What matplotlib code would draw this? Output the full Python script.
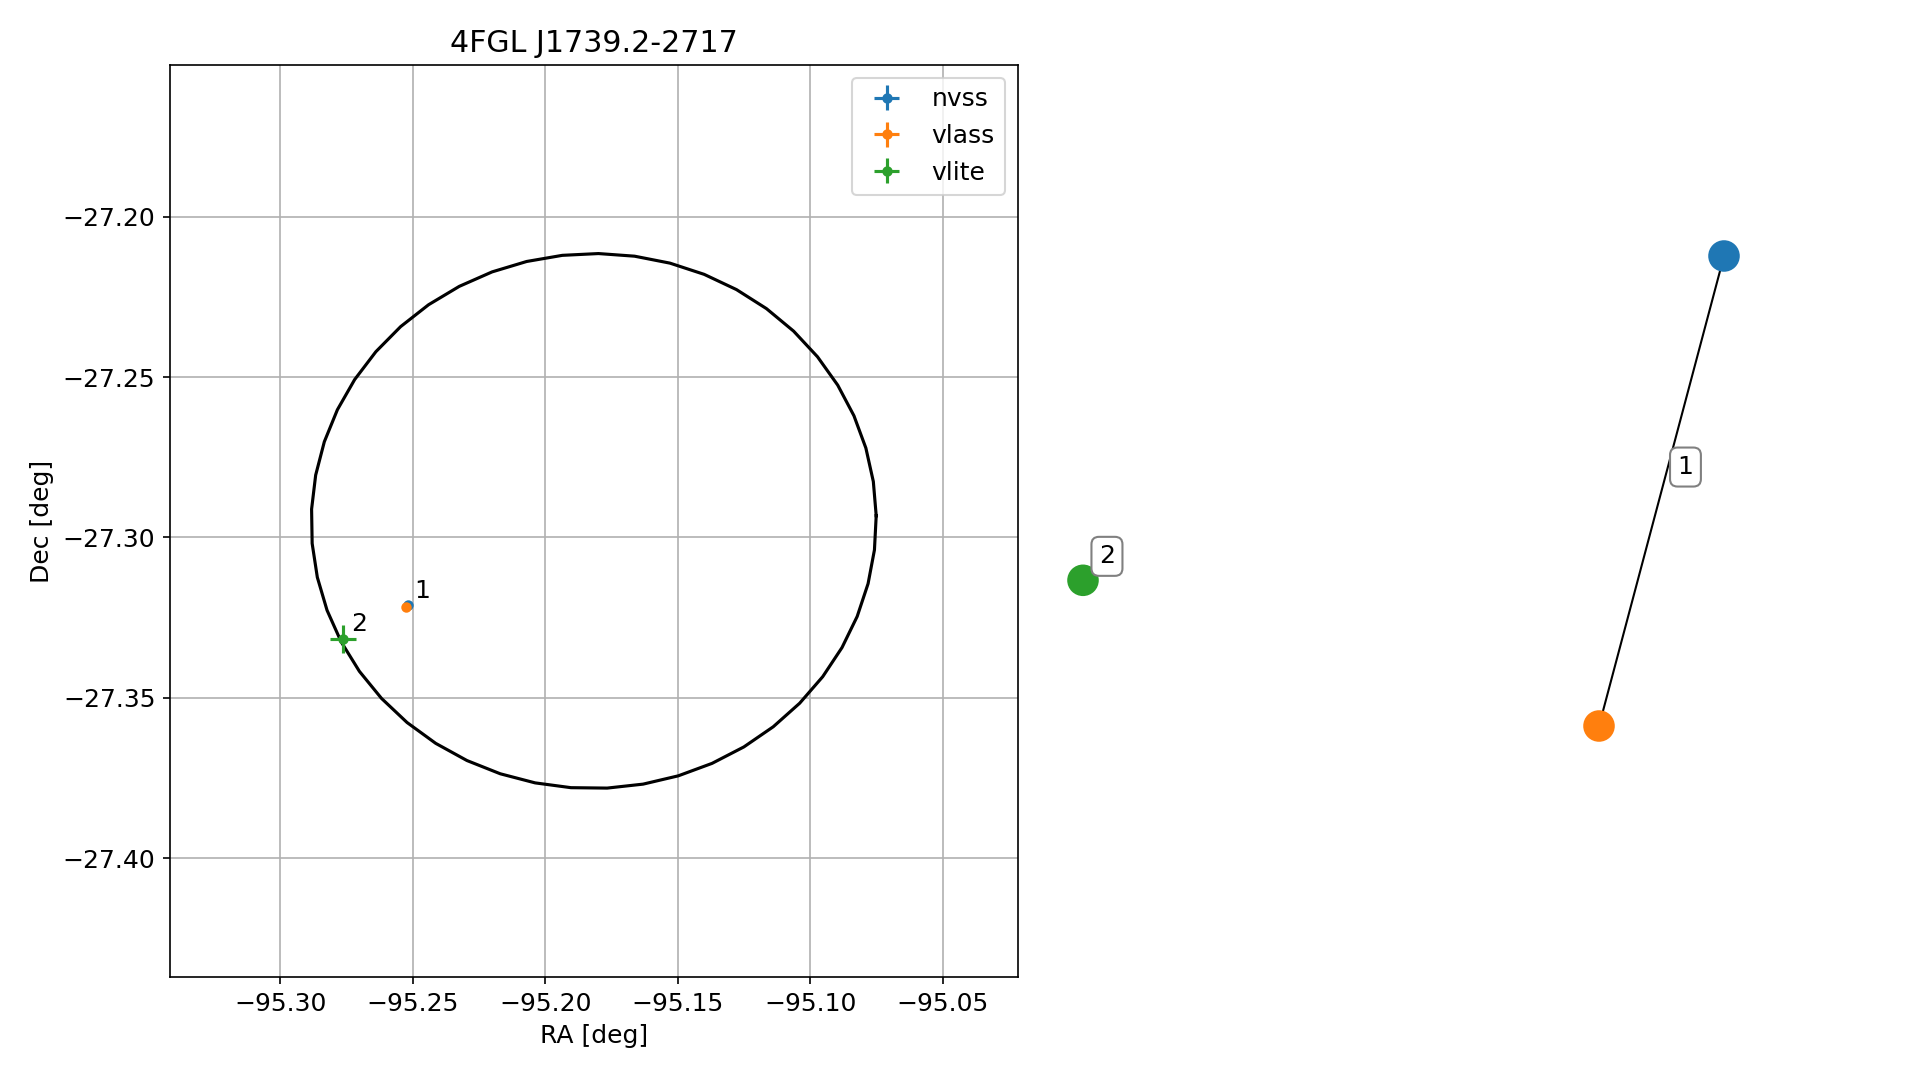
import matplotlib.pyplot as plt
import numpy as np

plt.rcParams['font.size'] = 12

# source name and Fermi ellipse
title = '4FGL J1739.2-2717'
ell_ra, ell_dec = -95.1817, -27.2949
ell_a, ell_b, ell_ang = 0.0948, 0.0834, 1.0  # deg, deg, deg

# radio counterparts
cats = ['nvss', 'vlass', 'vlite']
ra = [-95.2518, -95.2525, -95.2765]
dec = [-27.3212, -27.3216, -27.3317]
ra_err = [0.0004, 0.0004, 0.0049]
dec_err = [0.0004, 0.0004, 0.0044]
src_ids = ['', '1', '2']
colors = ['tab:blue', 'tab:orange', 'tab:green']

# match graph: node positions and edges
node_x = [1.0, 0.61, -1.0]
node_y = [1.0, -1.0, -0.38]
edges = [(0, 1, '1'), (2, 2, '2')]

fig = plt.figure(figsize=(1919 / 150, 1080 / 150), dpi=150)

# --- sky plot ---
ax = fig.add_axes([170 / 1919, 1 - 977 / 1080, 847.5 / 1919, 912 / 1080])
t = np.linspace(0, 2 * np.pi, 50)
th = np.radians(ell_ang)
cosd = np.cos(np.radians(ell_dec))
ex = ell_ra + (ell_a * np.cos(t) * np.cos(th) - ell_b * np.sin(t) * np.sin(th)) / cosd
ey = ell_dec + ell_a * np.cos(t) * np.sin(th) + ell_b * np.sin(t) * np.cos(th)
ax.plot(ex, ey, color='k', lw=1.5)

for i in range(len(cats)):
    ax.errorbar(ra[i], dec[i], xerr=ra_err[i], yerr=dec_err[i], fmt='o', ms=4,
                color=colors[i], label=cats[i])
    if src_ids[i]:
        ax.annotate(src_ids[i], (ra[i], dec[i]), xytext=(4, 4),
                    textcoords='offset points')

half = 1.5 * ell_a
ax.set_xlim(ell_ra - half / cosd, ell_ra + half / cosd)
ax.set_ylim(ell_dec - half, ell_dec + half)
ax.grid(True)
ax.set_xlabel('RA [deg]')
ax.set_ylabel('Dec [deg]')
ax.set_title(title)
ax.legend(loc='upper right')

# --- match graph ---
ax2 = fig.add_axes([0.55, 0.05, 0.44, 0.90])
sx, sy = 320.5, 235.0
x0, y0 = 1403.5, 491.0
ax2.set_xlim((0.55 * 1919 - x0) / sx, (0.99 * 1919 - x0) / sx)
ax2.set_ylim((y0 - 0.95 * 1080) / sy, (y0 - 0.05 * 1080) / sy)
ax2.axis('off')

for a, b, lab in edges:
    if a != b:
        ax2.plot([node_x[a], node_x[b]], [node_y[a], node_y[b]], color='k', lw=1, zorder=1)
    mx = (node_x[a] + node_x[b]) / 2
    my = (node_y[a] + node_y[b]) / 2
    ax2.annotate(lab, (mx, my), xytext=(11.5, 11.5), textcoords='offset points',
                 ha='center', va='center', fontsize=12, zorder=3,
                 bbox=dict(boxstyle='round', fc='white', ec='gray'))
ax2.scatter(node_x, node_y, s=200, c=colors, zorder=2)

fig.savefig('out.png', dpi=150)
